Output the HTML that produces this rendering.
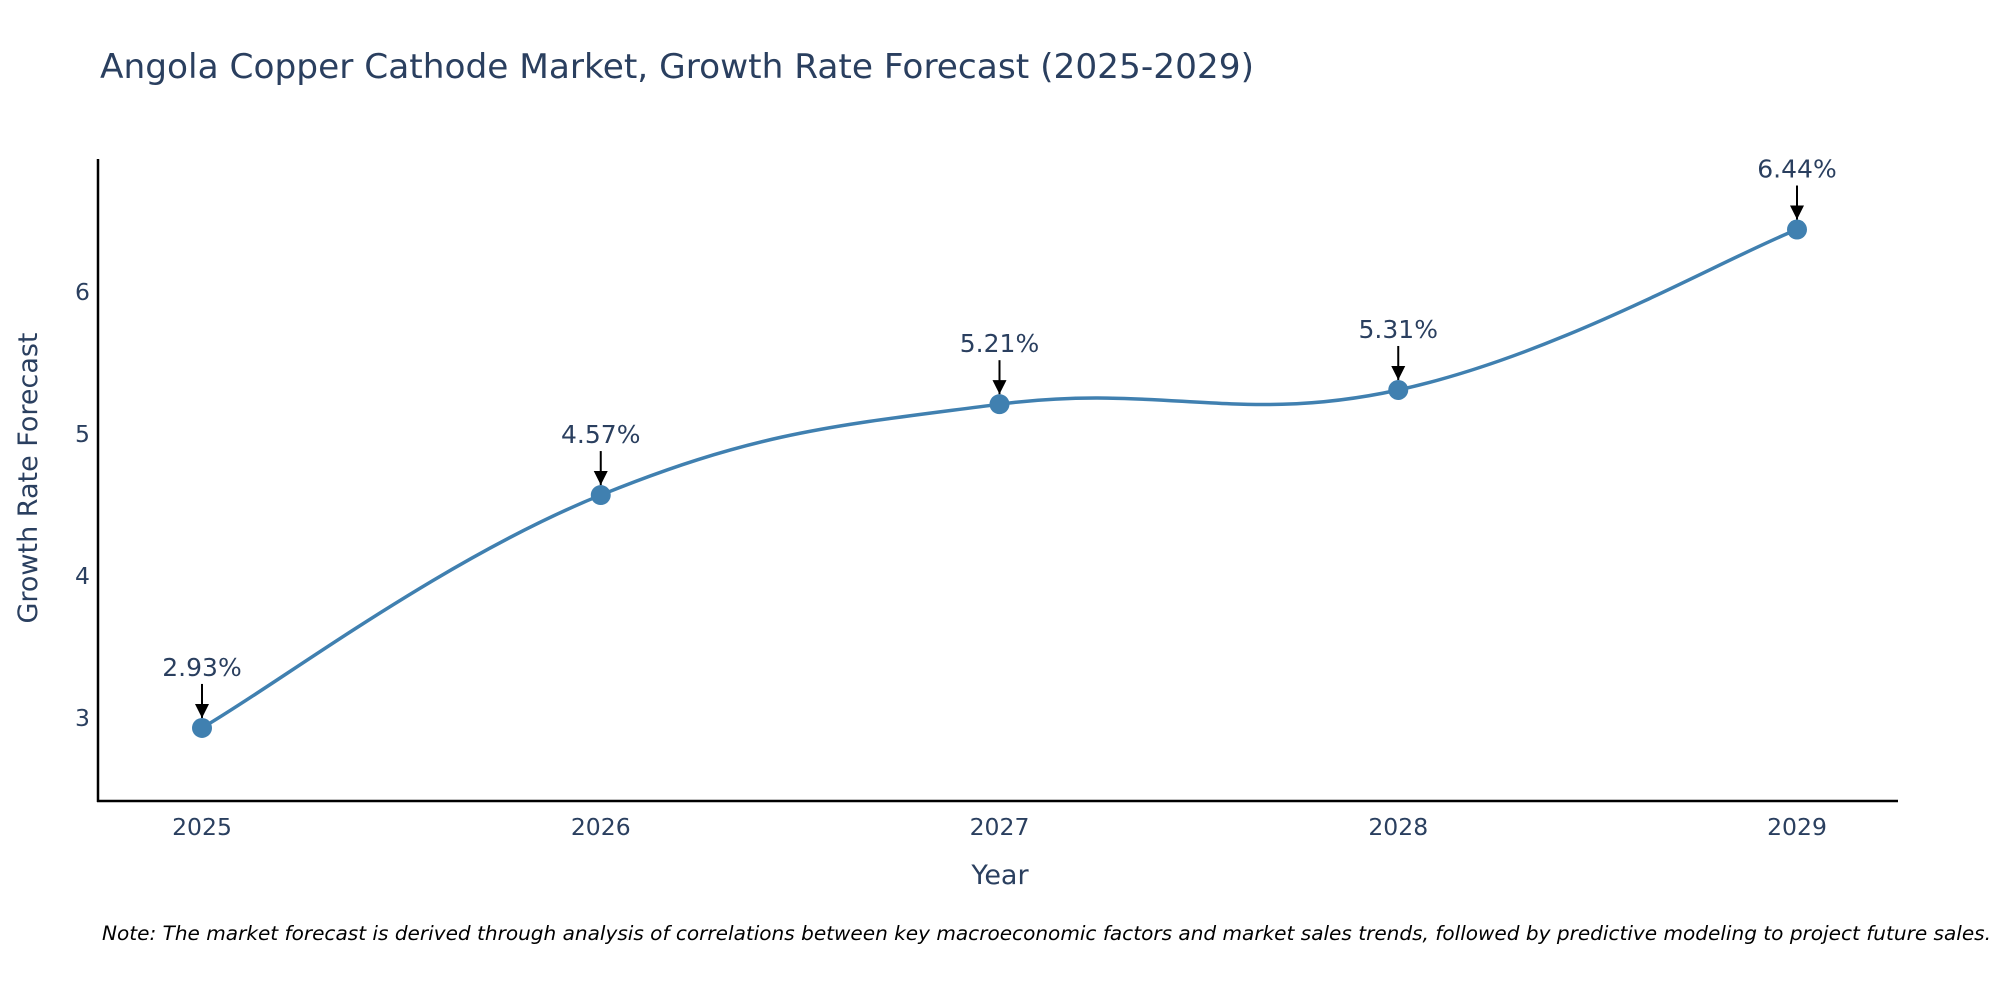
<!DOCTYPE html>
<html><head><meta charset="utf-8"><style>
body{margin:0;background:#fff;}
svg{display:block;font-family:"DejaVu Sans","Liberation Sans",sans-serif;}
</style></head><body>
<svg id="chart" width="2000" height="1000" viewBox="0 0 2000 1000">
<text x="100" y="78" font-size="34" fill="#2a3f5f" textLength="1154" lengthAdjust="spacingAndGlyphs">Angola Copper Cathode Market, Growth Rate Forecast (2025-2029)</text>
<g id="axes"></g>
<g id="series"></g>
<text x="102" y="940" font-size="19.5" font-style="italic" fill="#000" textLength="1889" lengthAdjust="spacingAndGlyphs">Note: The market forecast is derived through analysis of correlations between key macroeconomic factors and market sales trends, followed by predictive modeling to project future sales.</text>
</svg>
<script>
const years = [2025, 2026, 2027, 2028, 2029];
const values = [2.93, 4.57, 5.21, 5.31, 6.44];
const labels = ["2.93%", "4.57%", "5.21%", "5.31%", "6.44%"];
const yTicks = [3, 4, 5, 6];

const NS = "http://www.w3.org/2000/svg";
const L = 98, R = 1898, T = 159, B = 801;
const xs = i => 202 + i * 398.75;
const ys = v => 718 - (v - 3) * 142;
function mk(tag, attrs, parent, text) {
  const e = document.createElementNS(NS, tag);
  for (const k in attrs) e.setAttribute(k, attrs[k]);
  if (text !== undefined) e.textContent = text;
  parent.appendChild(e);
  return e;
}
const ax = document.getElementById('axes');
const sr = document.getElementById('series');
let e;
e = mk('line', {x1: L, y1: T, x2: L, y2: B + 1, stroke: '#000', 'stroke-width': 2.5}, ax);


e = mk('line', {x1: L - 1, y1: B, x2: R, y2: B, stroke: '#000', 'stroke-width': 2.5}, ax);


yTicks.forEach(t => {
  const el = mk('text', {x: 90, y: ys(t) + 8, 'font-size': 23.5, fill: '#2a3f5f', 'text-anchor': 'end'}, ax, String(t));
  
  
});
years.forEach((y, i) => {
  const el = mk('text', {x: xs(i), y: 835, 'font-size': 23.5, fill: '#2a3f5f', 'text-anchor': 'middle'}, ax, String(y));
  
  
});
e = mk('text', {x: 1000, y: 884, 'font-size': 27, fill: '#2a3f5f', 'text-anchor': 'middle'}, ax, 'Year');


e = mk('text', {x: 37, y: 478, 'font-size': 27, fill: '#2a3f5f', 'text-anchor': 'middle', transform: 'rotate(-90 37 478)'}, ax, 'Growth Rate Forecast');



const pts = values.map((v, i) => [xs(i), ys(v)]);
let d = `M${pts[0][0]},${pts[0][1]}`;
const s = 0.2;
for (let i = 0; i < pts.length - 1; i++) {
  const p0 = pts[Math.max(i - 1, 0)], p1 = pts[i], p2 = pts[i + 1], p3 = pts[Math.min(i + 2, pts.length - 1)];
  const c1 = [p1[0] + (p2[0] - p0[0]) * s, p1[1] + (p2[1] - p0[1]) * s];
  const c2 = [p2[0] - (p3[0] - p1[0]) * s, p2[1] - (p3[1] - p1[1]) * s];
  d += ` C${c1[0]},${c1[1]} ${c2[0]},${c2[1]} ${p2[0]},${p2[1]}`;
}
e = mk('path', {d, fill: 'none', stroke: '#4080b0', 'stroke-width': 3.5}, sr);


pts.forEach((p, i) => {
  const c = mk('circle', {cx: p[0], cy: p[1], r: 10, fill: '#4080b0'}, sr);
  
  
  const a = mk('line', {x1: p[0], y1: p[1] - 44, x2: p[0], y2: p[1] - 10, stroke: '#000', 'stroke-width': 2}, sr);
  
  
  const h = mk('path', {d: `M${p[0]-7},${p[1]-24} L${p[0]+7},${p[1]-24} L${p[0]},${p[1]-10} Z`, fill: '#000'}, sr);
  
  
  const t = mk('text', {x: p[0], y: p[1] - 52, 'font-size': 25, fill: '#2a3f5f', 'text-anchor': 'middle'}, sr, labels[i]);
  
  
});
</script>
</body></html>
